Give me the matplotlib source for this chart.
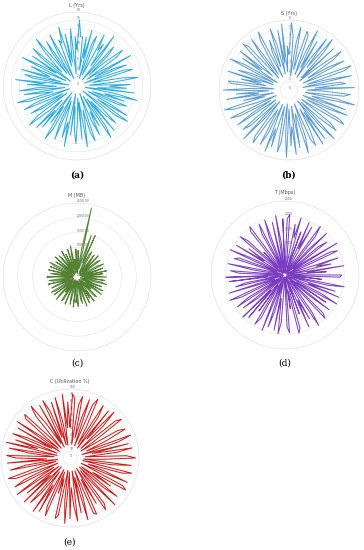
import matplotlib
matplotlib.use("Agg")
import matplotlib.pyplot as plt
import numpy as np

# values (one list per panel)
L_yrs = [9, 16, 12, 12, 4, 12, 7, 14, 2, 11, 13, 5, 3, 14, 10, 12, 6, 15, 8, 2, 13, 11, 4, 9, 14, 12, 3, 7, 15, 5,
         10, 13, 2, 12, 14, 6, 4, 11, 15, 9, 3, 13, 8, 12, 5, 14, 2, 10, 15, 7, 12, 4, 13, 11, 3, 9, 14, 6, 15, 12,
         2, 8, 13, 10, 5, 14, 4, 12, 15, 3, 11, 7, 13, 9, 2, 14, 12, 6, 10, 15, 4, 13, 3, 8, 14, 11, 5, 12, 2, 15,
         9, 13, 7, 4, 14, 10, 3, 12, 15, 6, 11, 2, 13, 8, 14, 5, 9, 15, 12, 3, 10, 13, 4, 7, 14, 11, 2, 12, 15, 6,
         9, 13, 3, 14, 10, 5, 12, 8, 15, 2, 11, 13, 4, 14, 7, 9, 12, 3, 15, 10, 6, 13, 2, 11, 14, 5, 8, 12, 15, 4,
         10, 13, 3, 9, 14, 7, 2, 12, 11, 15, 5, 13, 6, 10, 14, 3, 12]
S_yrs = [4.1, 7.7, 6.2, 1.6, 5.5, 7.3, 2.4, 3.8, 7.0, 6.6, 1.9, 5.0, 7.5, 2.9, 6.4, 1.7, 4.5, 7.2, 3.3, 7.6,
         5.8, 2.0, 6.9, 1.6, 4.0, 7.4, 6.1, 2.6, 5.3, 7.1, 1.8, 3.5, 7.6, 6.7, 2.2, 4.8, 7.3, 1.6, 5.9, 6.5,
         3.0, 7.5, 2.1, 4.3, 7.0, 6.3, 1.9, 5.6, 7.7, 2.7, 3.9, 6.8, 1.7, 7.2, 5.1, 2.3, 6.6, 7.4, 3.4, 1.8,
         6.0, 7.1, 4.6, 2.0, 7.6, 5.4, 1.6, 6.9, 3.1, 7.3, 2.5, 4.9, 7.0, 6.2, 1.7, 5.7, 7.5, 2.8, 3.6, 6.7,
         1.9, 7.4, 4.2, 6.4, 2.2, 7.7, 5.2, 1.6, 6.1, 7.2, 3.2, 2.0, 6.8, 4.7, 7.5, 1.8, 5.5, 7.0, 2.6, 3.7,
         7.3, 6.5, 1.7, 4.4, 7.6, 2.1, 5.9, 6.9, 3.0, 1.9, 7.1, 5.0, 2.4, 6.3, 7.4, 1.6, 4.0, 6.6, 7.7, 2.9,
         5.3, 1.8, 7.2, 3.5, 6.0, 2.3, 7.5, 4.6, 1.7, 6.7, 7.0, 2.7, 5.6, 3.3, 7.3, 1.9, 6.2, 4.9, 2.0, 7.6,
         5.8, 1.6, 6.4, 3.9, 7.1, 2.5, 4.3, 7.4, 6.8, 1.8, 5.2, 7.2, 2.2, 3.6, 6.5, 7.5, 1.7, 4.8, 6.1, 2.8,
         7.3, 5.4, 1.9, 6.9, 3.1, 7.6, 2.1, 5.0]
M_mb = [180, 900, 640, 120, 980, 2380, 300, 760, 1480, 520, 1530, 200, 870, 990, 410, 150, 940, 700, 260, 1010,
        590, 130, 860, 960, 330, 110, 780, 1000, 470, 220, 920, 650, 140, 1020, 380, 880, 170, 730, 990, 250,
        560, 950, 120, 810, 1030, 440, 190, 900, 670, 130, 980, 350, 760, 1010, 210, 620, 140, 940, 880, 300,
        110, 1000, 540, 830, 160, 970, 420, 240, 1040, 690, 120, 910, 780, 280, 150, 990, 600, 870, 200, 1020,
        360, 130, 950, 740, 450, 170, 1000, 520, 110, 890, 960, 310, 640, 140, 1030, 800, 230, 480, 980, 150,
        860, 1010, 390, 120, 930, 710, 260, 570, 1000, 180, 840, 950, 340, 130, 1020, 620, 210, 900, 760, 140,
        990, 430, 290, 970, 110, 820, 1040, 500, 160, 880, 680, 240, 1000, 370, 120, 940, 790, 200, 580, 1010,
        150, 860, 460, 320, 980, 130, 720, 1080, 260, 600, 170, 950]
T_mbps = [90, 1900, 2050, 600, 150, 1750, 1300, 2000, 250, 1550, 70, 1950, 1000, 1850, 120, 400, 2030, 1650, 200, 1200,
          1980, 80, 1450, 1800, 350, 900, 2060, 130, 1700, 1950, 500, 60, 1880, 1100, 1600, 180, 2010, 750, 1400, 100,
          1920, 1850, 300, 1250, 60, 2040, 1500, 220, 1780, 850, 1970, 90, 1350, 2000, 450, 1650, 140, 1900, 1050, 70,
          1820, 1990, 280, 650, 1550, 2050, 110, 1700, 950, 1930, 200, 1400, 80, 1860, 2020, 550, 1150, 160, 1960, 1750,
          320, 60, 1600, 2000, 800, 1900, 130, 1300, 1840, 240, 2030, 1000, 90, 1680, 1950, 420, 1500, 170, 1880, 700,
          2010, 100, 1200, 1790, 260, 1940, 1450, 70, 1620, 2050, 380, 900, 1980, 150, 1720, 1350, 60, 1900, 600, 2000,
          210, 1560, 1850, 120, 1100, 1960, 470, 80, 1800, 1650, 300, 2040, 1250, 190, 1920, 850, 1500, 70, 1990, 1700,
          350, 1050, 140, 1870, 2020, 550, 100, 1600, 1930, 270, 1400, 1980, 90, 750, 1830, 160, 2030, 1150, 60, 1900]
C_util = [45, 93, 86, 20, 78, 91, 30, 62, 89, 19, 84, 94, 52, 23, 90, 72, 18, 88, 37, 92, 66, 21, 85, 93, 41,
          19, 80, 90, 58, 26, 94, 74, 18, 87, 33, 91, 68, 22, 82, 95, 47, 20, 89, 61, 19, 92, 79, 28, 55, 90,
          18, 86, 93, 39, 71, 21, 88, 64, 19, 94, 50, 24, 83, 91, 18, 76, 35, 90, 87, 20, 59, 93, 29, 81, 19,
          92, 70, 43, 88, 21, 95, 63, 18, 85, 90, 31, 54, 22, 91, 77, 19, 89, 46, 94, 25, 67, 86, 18, 92, 38,
          80, 20, 93, 57, 27, 90, 73, 19, 84, 94, 42, 21, 88, 65, 18, 91, 34, 79, 92, 23, 60, 89, 19, 95, 49,
          83, 20, 90, 69, 30, 87, 18, 93, 53, 22, 86, 91, 40, 19, 78, 94, 61, 25, 88, 18, 92, 75, 32, 85, 20,
          90, 56, 19, 93, 44, 81]

W, H = 364, 550
panels = [
    # values, title, label, bold, color, rmax, ticks, tick fmt, center px, radius px, title y, label y
    (L_yrs, "L (Yrs)", "(a)", True, "#29abe2", 18, np.arange(0, 19, 2), "{:.0f}", (77, 86), 74, 5, 175),
    (S_yrs, "S (Yrs)", "(b)", True, "#5b9bd5", 8, np.arange(0, 9, 1), "{:.0f}", (289, 90), 70, 13, 175),
    (M_mb, "M (MB)", "(c)", False, "#548235", 2500, np.arange(0, 2501, 500), "{:.2f}", (77, 277), 74, 195, 363),
    (T_mbps, "T (Mbps)", "(d)", False, "#7a3cc0", 2500, np.arange(0, 2501, 500), "{:.0f}", (285, 275), 74, 193, 363),
    (C_util, "C (Utilization %)", "(e)", False, "#cc1a1a", 100, np.arange(0, 101, 10), "{:.0f}", (70, 458), 69, 382, 542),
]

fig = plt.figure(figsize=(W / 100, H / 100), dpi=100)
fig.patch.set_facecolor("white")

for vals, title, label, bold, color, rmax, ticks, fmt, (cx, cy), rad, ty, ly in panels:
    ax = fig.add_axes([(cx - rad) / W, (H - cy - rad) / H, 2 * rad / W, 2 * rad / H], projection="polar")
    theta = np.linspace(0, 2 * np.pi, len(vals), endpoint=False)
    th = np.append(theta, theta[0])
    r = np.append(vals, vals[0])
    ax.plot(th, r, color=color, lw=0.7, zorder=3)
    ax.set_theta_zero_location("N")
    ax.set_theta_direction(-1)
    ax.set_ylim(0, rmax)
    ax.set_yticks(ticks)
    ax.set_yticklabels([fmt.format(t) for t in ticks], fontsize=2.2, color="#666666")
    ax.set_rlabel_position(0)
    ax.set_xticks([])
    ax.grid(True, color="#e4e4e4", lw=0.4)
    ax.spines["polar"].set_color("#e4e4e4")
    ax.spines["polar"].set_linewidth(0.4)
    fig.text(cx / W, 1 - ty / H, title, ha="center", va="center", fontsize=3.5, color="#555555")
    fig.text(cx / W, 1 - ly / H, label, ha="center", va="center", fontsize=6.5, family="serif",
             fontweight="bold" if bold else "normal")

fig.savefig("out.png", dpi=100)
